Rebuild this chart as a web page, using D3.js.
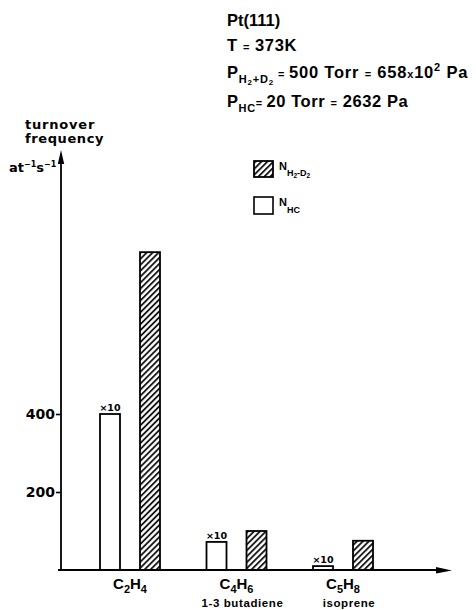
<!DOCTYPE html>
<html><head><meta charset="utf-8">
<script src="https://cdn.jsdelivr.net/npm/d3@7"></script>
<style>body{margin:0;background:#fff}svg{display:block}</style>
</head><body>
<svg id="c" width="476" height="610"></svg>
<script>
// ---- data ----
const categories = ["C2H4", "C4H6", "C5H8"];
const commonNames = ["", "1-3 butadiene", "isoprene"];
const nHC = [400, 72, 10];        // turnover frequency N_HC (drawn ×10)
const nH2D2 = [815, 100, 75];     // turnover frequency N_H2-D2
const hcNotes = ["×10", "×10", "×10"];
const yTicks = [200, 400];
const seriesKeys = ["HC", "H2D2"];

// ---- setup ----
const svg = d3.select("#c");
const FS = "'Liberation Sans', Arial, sans-serif";
const FD = "'DejaVu Sans', sans-serif";

const defs = svg.append("defs");
const pat = defs.append("pattern").attr("id", "hatch")
  .attr("patternUnits", "userSpaceOnUse").attr("width", 4.2).attr("height", 4.2)
  .attr("patternTransform", "rotate(45)");
pat.append("rect").attr("width", 4.2).attr("height", 4.2).attr("fill", "#fff");
pat.append("line").attr("x1", 1).attr("y1", 0).attr("x2", 1).attr("y2", 4.2)
  .attr("stroke", "#000").attr("stroke-width", 1.7);

const x = d3.scalePoint().domain(categories).range([130, 343]);
const xs = d3.scaleBand().domain(seriesKeys).range([-30, 30]).paddingInner(0.5);
const y = d3.scaleLinear().domain([0, 400]).range([570, 414]);
const x0 = 61;

// ---- bars ----
const rows = categories.map((c, i) => ({c, HC: nHC[i], H2D2: nH2D2[i], note: hcNotes[i], name: commonNames[i]}));
const g = svg.append("g");
rows.forEach(r => {
  seriesKeys.forEach(k => {
    g.append("rect")
      .attr("x", x(r.c) + xs(k))
      .attr("y", y(r[k]))
      .attr("width", xs.bandwidth())
      .attr("height", y(0) - y(r[k]))
      .attr("fill", k === "HC" ? "#fff" : "url(#hatch)")
      .attr("stroke", "#000").attr("stroke-width", 1.8);
  });
  g.append("text")
    .attr("x", x(r.c) + xs("HC") + xs.bandwidth() / 2)
    .attr("y", y(r.HC) - 3)
    .attr("text-anchor", "middle")
    .attr("font-family", FD).attr("font-weight", "bold").attr("font-size", 9.5)
    .text(r.note);
});

// ---- y axis ----
const ya = svg.append("g").attr("transform", `translate(${x0},0)`)
  .call(d3.axisLeft(y).tickValues(yTicks).tickSize(5).tickPadding(1));
ya.select(".domain").remove();
ya.selectAll("line").attr("stroke", "#000").attr("stroke-width", 1.6);
ya.selectAll("text").attr("font-family", FD).attr("font-weight", "bold")
  .attr("font-size", 14).attr("fill", "#000");

svg.append("line").attr("x1", x0).attr("x2", x0).attr("y1", y(0) + 1).attr("y2", 158)
  .attr("stroke", "#000").attr("stroke-width", 1.8);
svg.append("path").attr("d", `M${x0},150 L${x0 - 3.2},164 L${x0 + 3.2},164 Z`).attr("fill", "#000");

// ---- x axis ----
svg.append("line").attr("x1", x0 - 3).attr("x2", 442).attr("y1", y(0)).attr("y2", y(0))
  .attr("stroke", "#000").attr("stroke-width", 1.8);
svg.append("path").attr("d", `M452,${y(0) + 0.5} L436,${y(0) - 3} L436,${y(0) + 3.5} Z`).attr("fill", "#000");

// category labels with subscripts
rows.forEach(r => {
  const t = svg.append("text").attr("x", x(r.c)).attr("y", 589)
    .attr("text-anchor", "middle").attr("font-family", FS).attr("font-weight", "bold")
    .attr("font-size", 15);
  const parts = r.c.match(/[A-Za-z]+|\d+/g);
  let sub = false;
  parts.forEach(p => {
    const isNum = /\d/.test(p);
    const ts = t.append("tspan").text(p);
    if (isNum && !sub) { ts.attr("dy", 4).attr("font-size", 11); sub = true; }
    else if (!isNum && sub) { ts.attr("dy", -4); sub = false; }
  });
  if (r.name) {
    svg.append("text").attr("x", x(r.c) + 6).attr("y", 607)
      .attr("text-anchor", "middle").attr("font-family", FS).attr("font-weight", "bold")
      .attr("font-size", 11.5).attr("letter-spacing", 0.6)
      .text(r.name);
  }
});

// ---- axis title ----
const titleAttrs = s => s.attr("font-family", FD).attr("font-weight", "bold").attr("font-size", 13);
svg.append("text").attr("x", 25).attr("y", 129).attr("letter-spacing", 0.8).call(titleAttrs).text("turnover");
svg.append("text").attr("x", 25).attr("y", 143).attr("letter-spacing", 0.6).call(titleAttrs).text("frequency");
const unit = svg.append("text").attr("x", 9).attr("y", 172).call(titleAttrs);
unit.append("tspan").text("at");
unit.append("tspan").attr("dy", -5).attr("font-size", 8).text("−1");
unit.append("tspan").attr("dy", 5).text("s");
unit.append("tspan").attr("dy", -5).attr("font-size", 8).text("−1");

// ---- legend ----
svg.append("rect").attr("x", 254).attr("y", 161).attr("width", 19).attr("height", 16)
  .attr("fill", "url(#hatch)").attr("stroke", "#000").attr("stroke-width", 1.8);
svg.append("rect").attr("x", 254).attr("y", 197).attr("width", 19).attr("height", 17)
  .attr("fill", "#fff").attr("stroke", "#000").attr("stroke-width", 1.6);
const l1 = svg.append("text").attr("x", 279).attr("y", 170).attr("font-family", FS).attr("font-weight", "bold").attr("font-size", 11);
l1.append("tspan").text("N");
l1.append("tspan").attr("dy", 6).attr("font-size", 9).text("H");
l1.append("tspan").attr("dy", 2).attr("font-size", 6.5).text("2");
l1.append("tspan").attr("dy", -2).attr("font-size", 9).text("-D");
l1.append("tspan").attr("dy", 2).attr("font-size", 6.5).text("2");
const l2 = svg.append("text").attr("x", 279).attr("y", 206).attr("font-family", FS).attr("font-weight", "bold").attr("font-size", 11);
l2.append("tspan").text("N");
l2.append("tspan").attr("dy", 7).attr("font-size", 9).text("HC");

// ---- conditions text ----
const cond = (yy, ls) => svg.append("text").attr("x", 227).attr("y", yy)
  .attr("font-family", FS).attr("font-weight", "bold").attr("font-size", 16.5)
  .attr("letter-spacing", ls);
cond(26, 0).text("Pt(111)");
const c2 = cond(51, 0.6);
c2.append("tspan").text("T ");
c2.append("tspan").attr("font-size", 11).text("=");
c2.append("tspan").text(" 373K");
const c3 = cond(78, 0.8);
c3.append("tspan").text("P");
c3.append("tspan").attr("dy", 5).attr("font-size", 11).text("H");
c3.append("tspan").attr("dy", 2).attr("font-size", 8).text("2");
c3.append("tspan").attr("dy", -2).attr("font-size", 11).text("+D");
c3.append("tspan").attr("dy", 2).attr("font-size", 8).text("2");
c3.append("tspan").attr("dy", -7).attr("font-size", 11).text(" = ");
c3.append("tspan").text("500 Torr ");
c3.append("tspan").attr("font-size", 11).text("=");
c3.append("tspan").text(" 658");
c3.append("tspan").attr("font-size", 11).text("x");
c3.append("tspan").text("10");
c3.append("tspan").attr("dy", -7).attr("font-size", 11).text("2");
c3.append("tspan").attr("dy", 7).text(" Pa");
const c4 = cond(107, 0.6);
c4.append("tspan").text("P");
c4.append("tspan").attr("dy", 5).attr("font-size", 11).text("HC");
c4.append("tspan").attr("dy", -5).attr("font-size", 11).text("= ");
c4.append("tspan").text("20 Torr ");
c4.append("tspan").attr("font-size", 11).text("=");
c4.append("tspan").text(" 2632 Pa");
</script>
</body></html>
